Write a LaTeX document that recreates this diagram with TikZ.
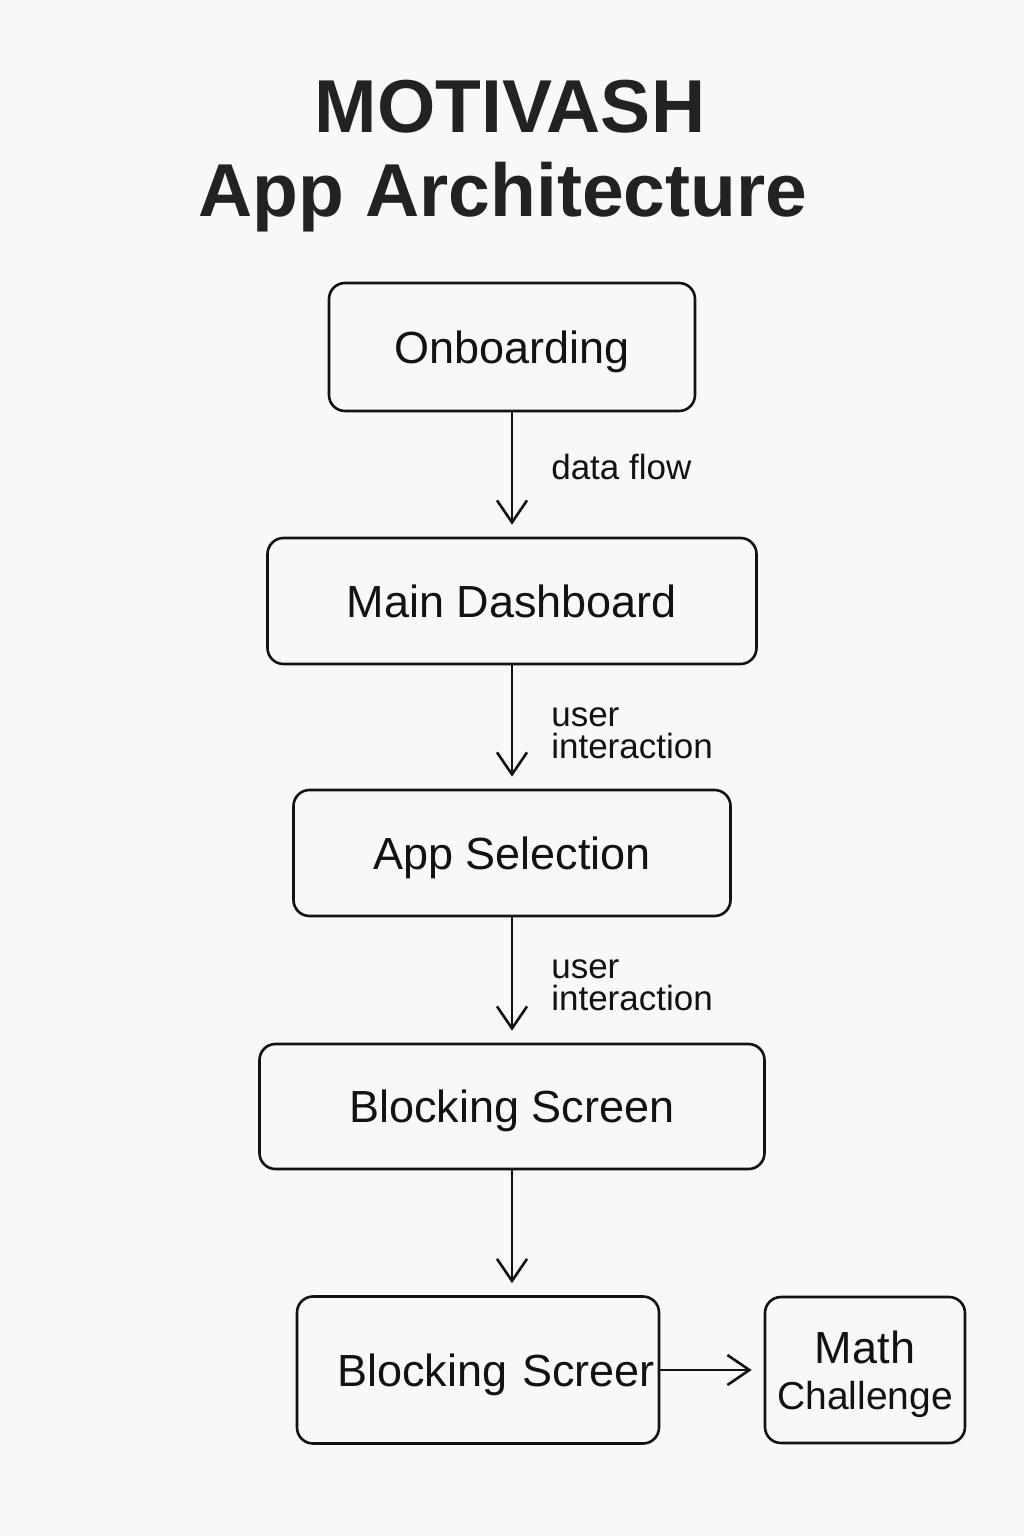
\documentclass[tikz,border=0pt]{standalone}
\usepackage{fontspec}
\setmainfont{Liberation Sans}
\usetikzlibrary{arrows.meta}
\definecolor{paper}{RGB}{248,248,246}
\definecolor{ink}{RGB}{18,18,18}
\definecolor{titleink}{RGB}{34,34,34}
\tikzset{
  screen/.style={draw=ink, line width=2.6pt, rounded corners=16pt, inner sep=0pt,
    text depth=0pt, text=ink, font=\fontsize{45}{54}\selectfont},
  flow/.style={draw=ink, line width=2.6pt, shorten >=12pt,
    -{Straight Barb[length=22pt,width=30pt,line width=2.6pt]}},
  flowlabel/.style={right, text=ink, inner sep=0pt, xshift=38pt, align=left,
    font=\fontsize{35}{32}\selectfont},
  titletext/.style={anchor=base, text=titleink, font=\bfseries\fontsize{75}{84}\selectfont}
}
\begin{document}
\begin{tikzpicture}[x=1pt,y=-1pt]
  \fill[paper] (0,0) rectangle (1024,1536);

  % title
  \node[titletext] (name) at (510,132) {MOTIVASH};
  \node[titletext] (sub) at (503,216) {App Architecture};

  % screens
  \node[screen, minimum width=366pt, minimum height=128pt] (onb) at (512,347) {Onboarding};
  \node[screen, minimum width=489pt, minimum height=126pt] (dash) at (512,601) {Main Dashboard};
  \node[screen, minimum width=437pt, minimum height=126pt] (sel) at (512,853) {App Selection};
  \node[screen, minimum width=505pt, minimum height=125pt] (blk) at (512,1106.5) {Blocking Screen};
  \node[screen, text width=354pt, align=right, inner xsep=4pt, minimum height=147pt] (scr) at (478,1370) {Blocking Screer};
  \node[screen, minimum width=200pt, minimum height=146pt, align=center] (math) at (865,1370)
    {Math\\[-8pt]{\fontsize{39}{46}\selectfont Challenge}};

  % flows
  \draw[flow] (onb) -- node[flowlabel, pos=0.44] {data flow} (dash);
  \draw[flow] (dash) -- node[flowlabel, pos=0.55] {user\\interaction} (sel);
  \draw[flow] (sel) -- node[flowlabel, pos=0.54] {user\\interaction} (blk);
  \draw[flow] (blk.south) -- (blk.south |- scr.north);
  \draw[flow] (scr) -- (math);
\end{tikzpicture}
\end{document}
